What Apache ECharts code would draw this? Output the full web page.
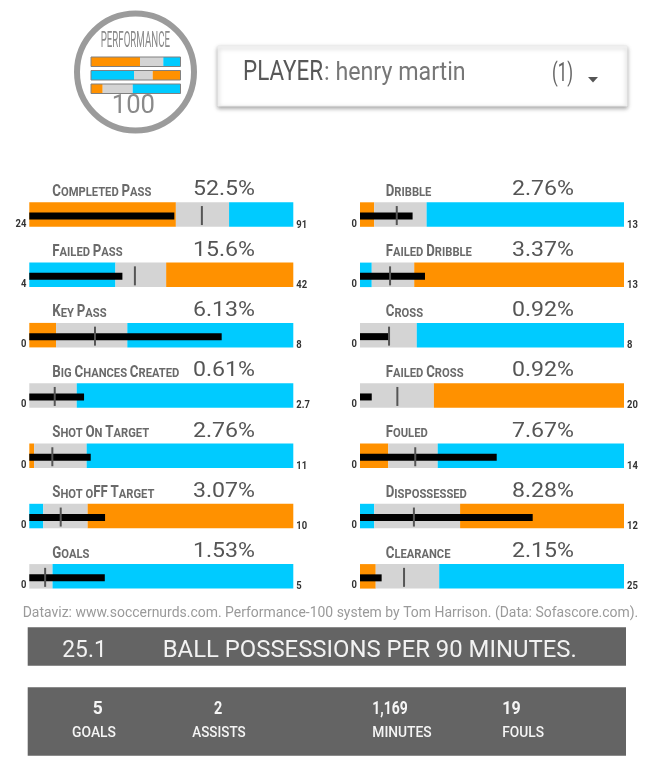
<!DOCTYPE html>
<html><head><meta charset="utf-8">
<script src="https://cdn.jsdelivr.net/npm/echarts@6/dist/echarts.min.js"></script>
<style>html,body{margin:0;padding:0;background:#fff}#c{width:658px;height:780px}</style>
</head><body><div id="c"></div>
<script>
// ---------------- DATA ----------------
const categories = ['Completed Pass','Failed Pass','Key Pass','Big Chances Created','Shot On Target','Shot oFF Target','Goals',
  'Dribble','Failed Dribble','Cross','Failed Cross','Fouled','Dispossessed','Clearance'];
const percentages = ['52.5%','15.6%','6.13%','0.61%','2.76%','3.07%','1.53%','2.76%','3.37%','0.92%','0.92%','7.67%','8.28%','2.15%'];
const scaleMin = [24,4,0,0,0,0,0, 0,0,0,0,0,0,0];
const scaleMax = [91,42,8,2.7,11,10,5, 13,13,8,20,14,12,25];
const lowBandEnd = [61.2,16.4,0.81,0,0.2,0.53,0, 0.70,0.58,0,0,1.5,0.65,1.49];
const midBandEnd = [74.7,23.7,2.97,0.485,2.39,2.21,0.44, 3.28,2.67,1.72,5.6,4.12,4.55,7.5];
const playerValue = [60.8,17.4,5.83,0.56,2.56,2.87,1.43, 2.59,3.2,0.86,0.89,7.25,7.85,2.05];
const averageValue = [67.8,19.2,1.99,0.26,0.96,1.19,0.30, 1.81,1.48,0.88,2.83,2.93,2.45,4.17];
const higherIsBetter = [true,false,true,true,true,false,true, true,false,true,false,true,false,true];

const playerName = 'henry martin';
const playerRank = '(1)';
const possessionValue = '25.1';
const possessionLabel = 'BALL POSSESSIONS PER 90 MINUTES.';
const summaryValues = ['5','2','1,169','19'];
const summaryLabels = ['GOALS','ASSISTS','MINUTES','FOULS'];
const creditText = 'Dataviz: www.soccernurds.com. Performance-100 system by Tom Harrison. (Data: Sofascore.com).';

// ---------------- STYLE / LAYOUT ----------------
const ORANGE = '#FF9100', BLUE = '#00CBFF', GRAY = '#D4D4D4';
const colX = [29.3, 360], barW = 264, rowTop0 = 202.3, rowStep = 60.3, barH = 24.5;
const titleOffset = [23, 25.7], pctOffset = [163.7, 152];

const mctx = document.createElement('canvas').getContext('2d');
function measure(text, font){ mctx.font = font; return mctx.measureText(text).width; }

function txt(text, x, baseline, o) {
  const fs = o.size, font = (o.weight || 'normal') + ' ' + fs + 'px ' + (o.family || 'Roboto');
  const sx = o.width ? o.width / measure(text, font) : (o.scale || 1);
  return {type:'text', x: x, y: baseline - 0.34*fs, scaleX: sx, scaleY: 1, silent: true, z: 10,
    style:{text: text, font: font, fill: o.color, textAlign: o.align||'left', textVerticalAlign:'middle',
      align: o.align||'left', verticalAlign:'middle'}};
}

// small caps rich text
const TITLE_BIG = 16, TITLE_SMALL = 13.5, TITLE_FAM = 'Roboto';
function smallCapsParts(s) {
  const parts = [];
  for (const ch of s) {
    const big = ch !== ' ' && ch === ch.toUpperCase() && ch !== ch.toLowerCase();
    const k = big ? 'b' : 's';
    if (parts.length && parts[parts.length-1].k === k) parts[parts.length-1].t += ch.toUpperCase();
    else parts.push({k: k, t: ch.toUpperCase()});
  }
  return parts;
}
function smallCapsWidth(s) {
  return smallCapsParts(s).reduce((w,p)=> w + measure(p.t, 'bold ' + (p.k==='b'?TITLE_BIG:TITLE_SMALL) + 'px ' + TITLE_FAM), 0);
}
const titleScale = 99 / smallCapsWidth('Completed Pass');
const pctFont = 'normal 21px Roboto';
const pctScale = 62 / measure('52.5%', pctFont);
const TICK_FS = 11.5;
const tickFont = 'bold ' + TICK_FS + 'px Roboto';

function renderPanel(params, api) {
  const i = params.seriesIndex;
  const col = i < 7 ? 0 : 1;
  const kind = api.value(2);
  const a = api.coord([api.value(0), 0]);
  const b = api.coord([api.value(1), 0]);
  const band = api.size([0, 1])[1];
  const top = a[1] - band/2, bottom = a[1] + band/2;
  const hib = higherIsBetter[i];
  if (kind <= 2) {
    const w = b[0] - a[0];
    if (w <= 0) return null;
    const color = kind === 1 ? GRAY : ((kind === 0) === hib ? ORANGE : BLUE);
    return {type:'rect', shape:{x:a[0], y:top, width:w, height:band}, style:{fill:color}};
  }
  if (kind === 3) {
    return {type:'rect', shape:{x:a[0], y:a[1]-2, width:b[0]-a[0], height:7}, style:{fill:'#000'}};
  }
  if (kind === 4) {
    return {type:'rect', shape:{x:a[0]-1, y:a[1]-8.5, width:2, height:19}, style:{fill:'#555'}};
  }
  if (kind === 5) {
    const parts = smallCapsParts(categories[i]);
    const text = parts.map(p => '{' + p.k + '|' + p.t + '}').join('');
    return {type:'text', x: a[0] + titleOffset[col], y: top - 5 + 2.5, scaleX: titleScale,
      style:{text: text, align:'left', verticalAlign:'bottom',
        rich:{ b:{fontSize:TITLE_BIG, fontWeight:'bold', fontFamily:TITLE_FAM, fill:'#6a6a6a', verticalAlign:'bottom', lineHeight:TITLE_BIG},
               s:{fontSize:TITLE_SMALL, fontWeight:'bold', fontFamily:TITLE_FAM, fill:'#6a6a6a', verticalAlign:'bottom', lineHeight:TITLE_SMALL}}}};
  }
  if (kind === 6) {
    return {type:'text', x: a[0] + pctOffset[col], y: top - 5 - 0.34*21, scaleX: pctScale,
      style:{text: percentages[i], font: pctFont, fill:'#555', align:'left', verticalAlign:'middle'}};
  }
  if (kind === 7) {
    return {type:'text', x: a[0] - 3, y: bottom + 0.8 - 0.34*TICK_FS, scaleX: 0.82,
      style:{text: String(scaleMin[i]), font: tickFont, fill:'#333', align:'right', verticalAlign:'middle'}};
  }
  if (kind === 8) {
    return {type:'text', x: a[0] + 3, y: bottom + 1.8 - 0.34*TICK_FS, scaleX: 0.82,
      style:{text: String(scaleMax[i]), font: tickFont, fill:'#333', align:'left', verticalAlign:'middle'}};
  }
  return null;
}

const grids = [], xAxes = [], yAxes = [], series = [];
categories.forEach((c, i) => {
  const col = i < 7 ? 0 : 1, row = i % 7;
  grids.push({left: colX[col], top: rowTop0 + row*rowStep, width: barW, height: barH});
  xAxes.push({type:'value', gridIndex:i, min: scaleMin[i], max: scaleMax[i], show:false});
  yAxes.push({type:'category', gridIndex:i, data:[c], show:false});
  const mn = scaleMin[i], mx = scaleMax[i];
  series.push({
    type:'custom', xAxisIndex:i, yAxisIndex:i, clip:false, silent:true,
    encode:{x:[0,1], y:3},
    renderItem: renderPanel,
    data: [
      [mn, Math.max(mn, lowBandEnd[i]), 0, 0],
      [Math.max(mn, lowBandEnd[i]), midBandEnd[i], 1, 0],
      [midBandEnd[i], mx, 2, 0],
      [mn, playerValue[i], 3, 0],
      [averageValue[i], averageValue[i], 4, 0],
      [mn, mn, 5, 0],
      [mn, mn, 6, 0],
      [mn, mn, 7, 0],
      [mx, mx, 8, 0]
    ]
  });
});

// ---------------- DECORATIONS ----------------
const graphics = [];
// logo
graphics.push({type:'circle', shape:{cx:135.5, cy:72, r:58.5}, style:{fill:'#fff', stroke:'#9b9b9b', lineWidth:6}, silent:true});
graphics.push(txt('PERFORMANCE', 100.7, 49.3, {size:22, width:69.3, color:'#8a8a8a'}));
graphics.push(txt('100', 111.7, 115, {size:26, width:43.3, color:'#8a8a8a'}));
const logoRows = [[ORANGE,140,GRAY,163.3,BLUE],[BLUE,134,GRAY,152.7,ORANGE],[ORANGE,102.7,GRAY,132.7,BLUE]];
logoRows.forEach((r, k) => {
  const y = 57 + k*13.5, h = 9.5, x0 = 91, x3 = 180.5;
  graphics.push({type:'rect', shape:{x:x0, y:y, width:r[1]-x0, height:h}, style:{fill:r[0]}, silent:true});
  graphics.push({type:'rect', shape:{x:r[1], y:y, width:r[3]-r[1], height:h}, style:{fill:r[2]}, silent:true});
  graphics.push({type:'rect', shape:{x:r[3], y:y, width:x3-r[3], height:h}, style:{fill:r[4]}, silent:true});
  graphics.push({type:'rect', shape:{x:x0, y:y, width:x3-x0, height:h}, style:{fill:'none', stroke:'#808080', lineWidth:1}, silent:true});
});
// header
graphics.push({type:'rect', shape:{x:218, y:46, width:409, height:60}, silent:true,
  style:{fill:'#fff', stroke:'#ececec', lineWidth:1, shadowBlur:4, shadowOffsetY:2, shadowColor:'rgba(0,0,0,0.35)'}});
graphics.push(txt('PLAYER', 243, 83, {size:28, width:80, color:'#585858'}));
graphics.push(txt(': ' + playerName, 324, 82.5, {size:26, width:141.7, color:'#777'}));
graphics.push(txt(playerRank, 552, 83, {size:26, width:21, color:'#666'}));
graphics.push({type:'polygon', shape:{points:[[588,77],[598,77],[593,82.5]]}, style:{fill:'#555'}, silent:true});
// credit
graphics.push(txt(creditText, 22.7, 618.3, {size:14, width:615.6, color:'#9a9a9a'}));
// possession box
graphics.push({type:'rect', shape:{x:27.7, y:627.3, width:598.3, height:38.4}, style:{fill:'#646464'}, silent:true});
graphics.push(txt(possessionValue, 62.3, 659.3, {size:23.5, width:44.4, color:'#f2f2f2'}));
graphics.push(txt(possessionLabel, 162.7, 659.3, {size:23.5, width:414, color:'#f2f2f2'}));
// summary box
graphics.push({type:'rect', shape:{x:27.7, y:687.3, width:598.3, height:68.4}, style:{fill:'#646464'}, silent:true});
const numX = [92.7, 214, 372.3, 502.3], numW = [10, 8.3, 35.4, 18.4];
const labX = [72, 192.3, 372.3, 502.3], labW = [44, 53.4, 59.4, 41.7];
summaryValues.forEach((v, k) => {
  graphics.push(txt(v, numX[k], 716, {size:18.7, weight:'bold', width:numW[k], color:'#f5f5f5'}));
  graphics.push(txt(summaryLabels[k], labX[k], 738.3, {size:15, weight:'500', width:labW[k], color:'#f5f5f5'}));
});

const chart = echarts.init(document.getElementById('c'), null, {renderer:'canvas'});
chart.setOption({
  animation:false,
  backgroundColor:'#fff',
  grid: grids, xAxis: xAxes, yAxis: yAxes, series: series,
  graphic: {elements: graphics}
});
</script></body></html>
